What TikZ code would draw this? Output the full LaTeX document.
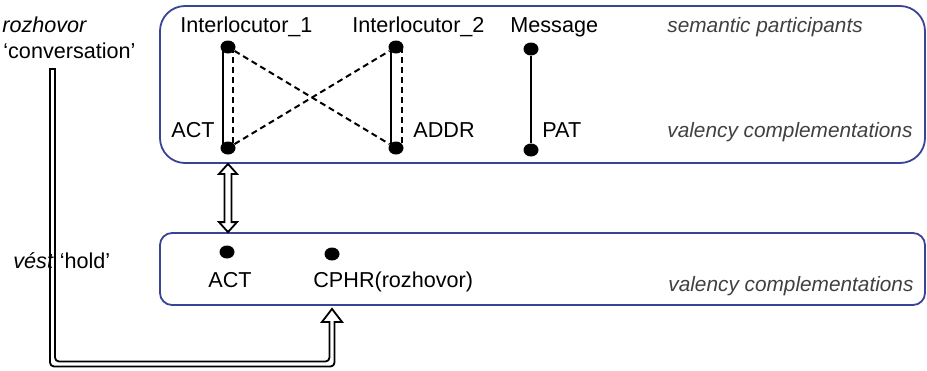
\documentclass[tikz,border=0pt]{standalone}
\usepackage{fontspec}
\setmainfont{Liberation Sans}
\usetikzlibrary{shapes.geometric,calc}
\definecolor{panelblue}{RGB}{58,68,150}
\definecolor{notegray}{RGB}{64,64,64}
\tikzset{
  lbl/.style={font=\fontsize{10.8}{13}\selectfont, inner sep=0pt},
  note/.style={lbl, font=\fontsize{10.4}{13}\selectfont\itshape, text=notegray},
  dot/.style={ellipse, fill=black, inner sep=0pt, minimum width=7.5pt, minimum height=6.5pt},
  panel/.style={draw=panelblue, line width=0.9pt},
  link/.style={line width=1.1pt},
  dashlink/.style={line width=1pt, dash pattern=on 3pt off 2pt},
  hollow/.style={line width=0.9pt, line join=miter}
}
\begin{document}
\begin{tikzpicture}[x=0.5pt,y=-0.5pt]
    \useasboundingbox (0,0) rectangle (927,370);

    % Panels
    \node[panel, rounded corners=12.5pt, minimum width=382.5pt, minimum height=78.5pt] (sem) at (542.5,84.5) {};
    \node[panel, rounded corners=6pt, minimum width=382.5pt, minimum height=36pt] (val) at (542.5,269) {};

    % Lexical units
    \node[lbl, anchor=base west] (rozh) at (2,32) {\itshape rozhovor};
    \node[lbl, anchor=base west] (conv) at (3,58) {‘conversation’};
    \node[lbl, anchor=base west] (vest) at (13,268) {\itshape vést\/ \upshape ‘hold’};

    % Semantic participants
    \node[lbl, anchor=base west] (int1lbl) at (180,32) {Interlocutor\_1};
    \node[lbl, anchor=base west] (int2lbl) at (352,32) {Interlocutor\_2};
    \node[lbl, anchor=base west] (msglbl) at (510,32) {Message};
    \node[note, anchor=base west] (semlbl) at (667,32) {semantic participants};

    % Valency complementations
    \node[lbl, anchor=base west] (actlbl) at (171,137) {ACT};
    \node[lbl, anchor=base west] (addrlbl) at (413,137) {ADDR};
    \node[lbl, anchor=base west] (patlbl) at (542,137) {PAT};
    \node[note, anchor=base west] (vallbl) at (667,137) {valency complementations};
    \node[lbl, anchor=base] (act2lbl) at (230,287) {ACT};
    \node[lbl, anchor=base west] (cphrlbl) at (313,287) {CPHR(rozhovor)};
    \node[note, anchor=base west] (val2lbl) at (668,291) {valency complementations};

    % Dots
    \node[dot] (int1) at (228,47) {};
    \node[dot] (act1) at (228,148) {};
    \node[dot] (int2) at (396,47) {};
    \node[dot] (addr) at (396,148) {};
    \node[dot] (msg) at (531,49) {};
    \node[dot] (pat) at (531,150) {};
    \node[dot] (act2) at (227,252) {};
    \node[dot] (cphr) at (332,254) {};

    % Mappings
    \draw[link] ([xshift=-2.5pt]int1.center) -- ([xshift=-2.5pt]act1.center);
    \draw[dashlink] ([xshift=2.5pt]int1.center) -- ([xshift=2.5pt]act1.center);
    \draw[link] ([xshift=-2.5pt]int2.center) -- ([xshift=-2.5pt]addr.center);
    \draw[dashlink] ([xshift=3pt]int2.center) -- ([xshift=3pt]addr.center);
    \draw[dashlink] (int1) -- (addr);
    \draw[dashlink] (act1) -- (int2);
    \draw[link] (msg) -- (pat);

    % Hollow arrows
    \coordinate (uptip) at (act1 |- sem.south);
    \coordinate (dntip) at (act1 |- val.north);
    \draw[hollow] (uptip) -- ++(9,10) -- ++(-5.5,0) -- ($(dntip)+(3.5,-10)$) -- ++(5.5,0) -- (dntip)
        -- ++(-9,-10) -- ++(5.5,0) -- ($(uptip)+(-3.5,10)$) -- ++(-5.5,0) -- cycle;
    \coordinate (tail) at (52.5,69);
    \coordinate (tip) at ($(cphr |- val.south)+(0,3)$);
    \coordinate (bend) at (52.5,364);
    \draw[hollow] ($(tail)+(-2.5,0)$) [rounded corners=2pt] -- ($(bend)+(-2.5,2.5)$) -- ($(tip |- bend)+(2.5,2.5)$)
        [sharp corners] -- ($(tip)+(2.5,13)$) -- ($(tip)+(10,13)$) -- (tip) -- ($(tip)+(-10,13)$) -- ($(tip)+(-2.5,13)$)
        [rounded corners=2pt] -- ($(tip |- bend)+(-2.5,-2.5)$) -- ($(bend)+(2.5,-2.5)$)
        [sharp corners] -- ($(tail)+(2.5,0)$) -- cycle;
\end{tikzpicture}
\end{document}
